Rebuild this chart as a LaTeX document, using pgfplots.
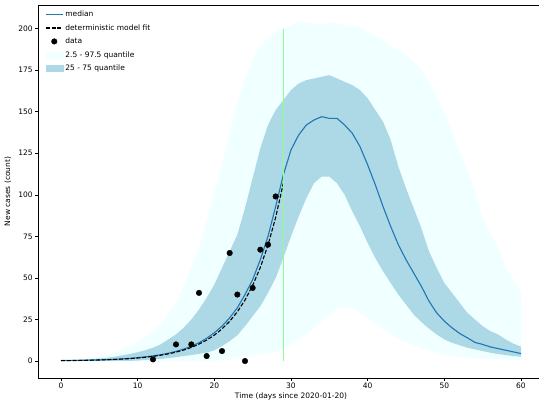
\documentclass[border=0pt]{standalone}
\usepackage{pgfplots}
\pgfplotsset{compat=1.18}
\usepackage{pgfplotstable}
\usepgfplotslibrary{fillbetween}
\usepackage{fontspec}
\setmainfont{DejaVu Sans}

\definecolor{medblue}{HTML}{1F77B4}
\definecolor{bandlight}{HTML}{F0FFFF}
\definecolor{banddark}{HTML}{ADD8E6}

% simulated daily incidence: quantile bands and median
\pgfplotstableread{
t  hi95  lo95  hi50  lo50  med
0  0.3   0     0.3   0.1   0.3
1  0.5   0     0.4   0.1   0.35
2  0.8   0     0.6   0.1   0.4
3  1.2   0     0.8   0.1   0.5
4  1.8   0     1.2   0.1   0.6
5  2.6   0     1.5   0.1   0.7
6  3.6   0     2.0   0.1   0.85
7  5.0   0     2.6   0.1   1.05
8  6.8   0     3.4   0.1   1.3
9  9.0   0     4.3   0.1   1.6
10 11.5  0     5.3   0.3   2.0
11 14.5  0     6.5   0.6   2.5
12 18    0     8.0   1.0   3.1
13 22    0     10    1.3   3.8
14 28    0     13    1.8   4.7
15 35    0     16    2.3   5.8
16 45    0     20    3.0   7.2
17 57    0     25    3.6   8.9
18 68    0     31    4.3   11
19 84    0     38    5.0   13.7
20 101   0     46    6.5   17
21 118   0.5   56    9     21
22 137   1     66    12    26
23 155   2     76    15.5  32
24 170   3     92    21    40
25 181   3.5   110   27    49
26 189   4     128   33    61
27 194   5     142   41    75
28 198   5.5   151   50    93
29 200   7     157   62    112
30 202   10    163   75    127
31 204   13    167   87    136
32 204   16    169   98    142
33 203   20    170   107   145
34 202   24    171   111   147
35 204   28    172   111   146
36 203   31.5  170   107   146
37 202   32.5  168   100   142
38 201   31.5  166   90    137
39 201   29.5  163   81    129
40 198   26    158   71    118
41 195   22.5  151   62    106
42 193   19    144   54    93
43 189   16    133   47    81
44 187   13.5  117   40    70
45 184   11.5  104   34    61
46 180   9.5   92    28    53
47 175   8     80    23.5  45
48 168   6.5   66    19.5  36
49 159   5     56    16    29
50 150   4     47    13    24
51 138   3.2   41    11    20
52 125   2.5   35    9.5   16.6
53 115   2     29    8     14
54 102   1.7   25    7     11.2
55 86    1.4   21    6     10
56 77    1.2   18    5     8.5
57 68    1     16    4.2   7.5
58 57    0.8   13    3.6   6.5
59 48    0.7   10.5  3     5.5
60 41    0.6   8.6   2.6   4.5
}\sim

% deterministic model fit
\pgfplotstableread{
t  y
0  0.22
1  0.27
2  0.33
3  0.41
4  0.51
5  0.63
6  0.78
7  0.97
8  1.2
9  1.48
10 1.84
11 2.27
12 2.82
13 3.49
14 4.32
15 5.35
16 6.62
17 8.21
18 10.17
19 12.6
20 15.6
21 19.3
22 23.9
23 29.6
24 36.7
25 45.5
26 56.3
27 69.8
28 86.4
29 107
}\fit

% reported cases
\pgfplotstableread{
t  y
12 1
15 10
17 10
18 41
19 3
21 6
22 65
23 40
24 0
25 44
26 67
27 70
28 99
}\obs

% day of intervention
\pgfplotstableread{
t  y
29 0
29 200
}\interv

\begin{document}
\fontsize{7.5}{9}\selectfont
\begin{tikzpicture}
\begin{axis}[
  scale only axis,
  width=506pt, height=373pt,
  xmin=-3, xmax=63,
  ymin=-10.2, ymax=214.2,
  xtick={0,10,...,60},
  ytick={0,25,...,200},
  tick pos=left,
  tick align=outside,
  major tick length=2.6pt,
  every tick/.style={black, line width=0.6pt},
  axis line style={line width=0.6pt},
  /pgf/number format/assume math mode=true,
  tick label style={font=\fontsize{7.5}{9}\selectfont},
  label style={font=\fontsize{7.5}{9}\selectfont},
  xlabel={Time (days since 2020-01-20)},
  ylabel={New cases (count)},
  xlabel style={yshift=1pt},
  ylabel style={yshift=2pt},
  legend cell align=left,
  legend style={at={(0,1)}, anchor=north west, xshift=4pt, yshift=-2pt,
    draw=none, row sep=2.6pt,
    font=\fontsize{7.5}{9}\selectfont},
]
% legend entries
\addlegendimage{color=medblue, draw=medblue, line width=1.1pt}
\addlegendentry{median}
\addlegendimage{color=black, draw=black, line width=1.1pt, dash pattern=on 4pt off 1.8pt}
\addlegendentry{deterministic model fit}
\addlegendimage{only marks, mark=*, mark size=2.8pt, color=black, draw=black, fill=black}
\addlegendentry{data}
\addlegendimage{area legend, fill=bandlight, draw=bandlight}
\addlegendentry{2.5 - 97.5 quantile}
\addlegendimage{area legend, fill=banddark, draw=banddark}
\addlegendentry{25 - 75 quantile}

% quantile bands
\addplot[draw=none, name path=hiA, forget plot] table[x=t, y=hi95] {\sim};
\addplot[draw=none, name path=loA, forget plot] table[x=t, y=lo95] {\sim};
\addplot[fill=bandlight, draw=none, forget plot] fill between[of=hiA and loA];
\addplot[draw=none, name path=hiB, forget plot] table[x=t, y=hi50] {\sim};
\addplot[draw=none, name path=loB, forget plot] table[x=t, y=lo50] {\sim};
\addplot[fill=banddark, draw=none, forget plot] fill between[of=hiB and loB];

% median, fit and observations
\addplot[color=medblue, line width=1.1pt, forget plot] table[x=t, y=med] {\sim};
\addplot[color=black, line width=1.1pt, dash pattern=on 4pt off 1.8pt, forget plot] table[x=t, y=y] {\fit};
\addplot[only marks, mark=*, mark size=2.8pt, color=black, forget plot] table[x=t, y=y] {\obs};

% day of intervention
\addplot[green!45!white, line width=1.5pt, forget plot] table[x=t, y=y] {\interv};
\end{axis}
\pgfresetboundingbox
\path (current axis.south west) ++(-38pt,-25pt) rectangle ++(539pt,403pt);
\end{tikzpicture}
\end{document}
